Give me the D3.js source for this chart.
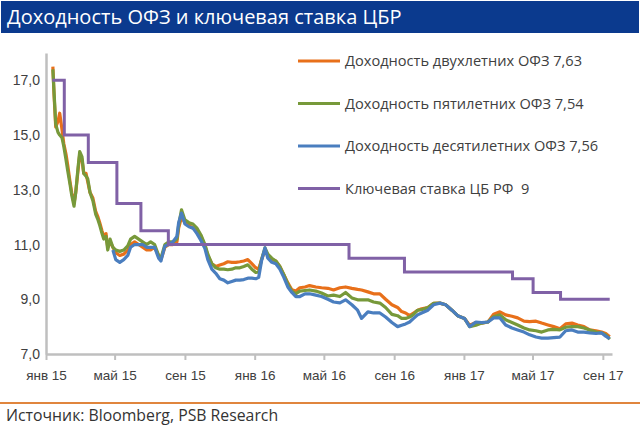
<!DOCTYPE html>
<html>
<head>
<meta charset="utf-8">
<script src="https://cdn.jsdelivr.net/npm/d3@7"></script>
<style>
  body { margin: 0; background: white; }
  svg { display: block; }
</style>
</head>
<body>
<div class="canvas"></div>
<script>
// dates of the readings (shared by the three bond series)
const dates = [
  "2015-01-13","2015-01-15","2015-01-18","2015-01-22","2015-01-25","2015-01-29","2015-02-01","2015-02-05",
  "2015-02-08","2015-02-12","2015-02-15","2015-02-19","2015-02-22","2015-02-26","2015-03-01","2015-03-05",
  "2015-03-08","2015-03-12","2015-03-15","2015-03-19","2015-03-24","2015-03-29","2015-04-02","2015-04-05",
  "2015-04-09","2015-04-12","2015-04-16","2015-04-19","2015-04-23","2015-04-28","2015-05-03","2015-05-10",
  "2015-05-17","2015-05-24","2015-05-29","2015-06-05","2015-06-12","2015-06-19","2015-06-26","2015-07-03",
  "2015-07-10","2015-07-17","2015-07-21","2015-07-28","2015-08-04","2015-08-11","2015-08-18","2015-08-21",
  "2015-08-26","2015-09-01","2015-09-08","2015-09-15","2015-09-22","2015-09-29","2015-10-06","2015-10-11",
  "2015-10-18","2015-10-25","2015-11-01","2015-11-08","2015-11-15","2015-11-22","2015-11-29","2015-12-06",
  "2015-12-13","2015-12-20","2015-12-27","2016-01-03","2016-01-08","2016-01-13","2016-01-19","2016-01-24",
  "2016-01-31","2016-02-07","2016-02-14","2016-02-21","2016-02-28","2016-03-06","2016-03-13","2016-03-20",
  "2016-03-29","2016-04-06","2016-04-17","2016-04-27","2016-05-08","2016-05-18","2016-05-29","2016-06-08",
  "2016-06-19","2016-06-29","2016-07-06","2016-07-17","2016-07-27","2016-08-07","2016-08-17","2016-08-28",
  "2016-09-07","2016-09-14","2016-09-21","2016-09-28","2016-10-05","2016-10-12","2016-10-19","2016-10-30",
  "2016-11-09","2016-11-20","2016-11-30","2016-12-11","2016-12-21","2017-01-02","2017-01-11","2017-01-22",
  "2017-02-01","2017-02-12","2017-02-22","2017-03-05","2017-03-15","2017-03-26","2017-04-05","2017-04-16",
  "2017-04-26","2017-05-07","2017-05-17","2017-05-28","2017-06-07","2017-06-18","2017-06-28","2017-07-09",
  "2017-07-19","2017-07-30","2017-08-09","2017-08-20","2017-08-30","2017-09-06","2017-09-13"
];

const ofz2 = [
  17.5,16.5,15.3,15.5,15.8,15.2,14.7,14.3, 13.9,13.3,12.9,12.5,12.9,13.7,14.3,14.1,
  13.6,13.6,13.3,12.9,12.7,12.2,12.0,11.8, 11.5,11.3,11.4,10.9,11.1,10.9,10.7,10.6,
  10.65,10.8,11.0,11.1,11.0,10.9,10.8,10.8, 10.9,10.6,10.45,10.9,11.0,11.0,11.1,11.6,
  12.0,11.8,11.7,11.6,11.5,11.3,10.95,10.6, 10.3,10.2,10.25,10.3,10.37,10.35,10.35,10.37,
  10.4,10.45,10.3,10.15,10.1,10.45,10.8,10.6, 10.45,10.4,10.2,9.9,9.6,9.35,9.3,9.42,
  9.45,9.5,9.45,9.42,9.4,9.34,9.42,9.45, 9.4,9.36,9.34,9.27,9.2,9.2,9.0,8.8,
  8.7,8.55,8.5,8.4,8.5,8.6,8.65,8.7, 8.85,8.86,8.8,8.6,8.4,8.3,8.05,8.15,
  8.13,8.17,8.45,8.54,8.43,8.38,8.32,8.2, 8.18,8.2,8.13,8.06,8.0,7.92,8.1,8.13,
  8.06,8.0,7.88,7.85,7.8,7.75,7.63
];

const ofz5 = [
  17.4,16.6,15.4,15.1,15.0,14.9,14.6,14.1, 13.7,13.2,12.8,12.4,12.9,13.8,14.4,14.2,
  13.6,13.5,13.4,12.9,12.6,12.1,11.9,11.7, 11.4,11.2,11.3,10.8,11.2,10.9,10.8,10.75,
  10.8,10.95,11.2,11.3,11.2,11.1,11.0,11.1, 11.0,10.6,10.5,11.0,11.1,11.1,11.2,11.7,
  12.27,11.9,11.8,11.75,11.6,11.35,11.0,10.65, 10.3,10.15,10.1,10.1,10.08,10.1,10.15,10.15,
  10.2,10.26,10.1,9.98,10.0,10.45,10.88,10.65, 10.5,10.4,10.2,9.9,9.55,9.3,9.2,9.3,
  9.32,9.34,9.3,9.23,9.12,9.15,9.1,9.25, 9.05,8.98,8.98,8.98,8.9,8.86,8.7,8.45,
  8.4,8.3,8.3,8.35,8.45,8.6,8.62,8.7, 8.85,8.86,8.8,8.6,8.4,8.3,8.0,8.05,
  8.13,8.17,8.36,8.43,8.25,8.15,8.06,7.95, 7.88,7.85,7.8,7.88,7.9,7.88,7.98,8.0,
  8.0,7.95,7.88,7.8,7.77,7.7,7.54
];

// ten-year series starts at the end of April 2015
const ofz10 = [
  null,null,null,null,null,null,null,null, null,null,null,null,null,null,null,null,
  null,null,null,null,null,null,null,null, null,null,null,null,null,10.8,10.45,10.35,
  10.45,10.6,10.9,11.0,11.0,11.0,10.9,10.9, 10.9,10.5,10.4,10.95,11.0,11.1,11.3,11.8,
  12.15,11.75,11.65,11.6,11.4,11.15,10.85,10.45, 10.1,9.95,9.75,9.7,9.6,9.65,9.7,9.7,
  9.72,9.77,9.77,9.75,9.8,10.4,10.88,10.5, 10.35,10.3,10.1,9.8,9.45,9.25,9.1,9.1,
  9.2,9.2,9.15,9.1,9.0,8.9,8.87,8.98, 8.8,8.6,8.3,8.54,8.5,8.5,8.35,8.15,
  8.0,8.05,8.1,8.17,8.3,8.43,8.5,8.6, 8.8,8.86,8.8,8.6,8.4,8.3,8.0,8.17,
  8.15,8.17,8.32,8.32,8.06,7.95,7.88,7.8, 7.7,7.62,7.58,7.58,7.6,7.62,7.85,7.88,
  7.8,7.8,7.77,7.75,7.77,7.65,7.56
];

// key rate of the Bank of Russia, changes
const keyDates = ["2015-01-12","2015-02-02","2015-03-16","2015-05-05","2015-06-16","2015-08-03",
                  "2016-06-14","2016-09-19","2017-03-27","2017-05-02","2017-06-19","2017-09-13"];
const keyRate = [17, 15, 14, 12.5, 11.5, 11, 10.5, 10, 9.75, 9.25, 9, 9];

const legendLabels = ["Доходность двухлетних ОФЗ 7,63", "Доходность пятилетних ОФЗ 7,54",
                      "Доходность десятилетних ОФЗ 7,56", "Ключевая ставка ЦБ РФ  9"];
const xTickDates = ["2015-01-01","2015-05-01","2015-09-01","2016-01-01","2016-05-01",
                    "2016-09-01","2017-01-01","2017-05-01","2017-09-01"];
const xTickLabels = ["янв 15","май 15","сен 15","янв 16","май 16","сен 16","янв 17","май 17","сен 17"];
const yTicks = [7, 9, 11, 13, 15, 17];

const colors = ["#E8701A", "#77993A", "#4A7EBF", "#8061A6"];

const parse = d3.timeParse("%Y-%m-%d");
const ru = d3.formatLocale({decimal: ",", thousands: " ", grouping: [3], currency: ["", ""]});
const fmt = ru.format(".1f");

const W = 640, H = 428;
const svg = d3.select('.canvas')
  .append('svg')
    .attr('width', W)
    .attr('height', H)
    .style("font-family", "'Open Sans', sans-serif");

// title bar
svg.append("rect")
  .attr("x", 1).attr("y", 1)
  .attr("width", W - 2).attr("height", 32)
  .attr("fill", "#0B3A8E");
svg.append("text")
  .attr("x", 7).attr("y", 24)
  .attr("fill", "white")
  .style("font-size", "20px")
  .text("Доходность ОФЗ и ключевая ставка ЦБР");

const x = d3.scaleTime()
  .domain([parse("2015-01-01"), parse("2017-09-17")])
  .range([46, 612]);
const y = d3.scaleLinear()
  .domain([7, 18])
  .range([354, 53]);

// axes
const xAxis = svg.append("g")
  .attr("transform", "translate(0,354)")
  .call(d3.axisBottom(x)
    .tickValues(xTickDates.map(parse))
    .tickFormat((d, i) => xTickLabels[i])
    .tickSize(6)
    .tickSizeOuter(0));
xAxis.select(".domain").attr("stroke", "#BFBFBF").attr("stroke-width", 2.5);
xAxis.selectAll(".tick line").attr("stroke", "#BFBFBF").attr("stroke-width", 2);
xAxis.selectAll("text")
  .attr("dy", "1.25em")
  .style("font-size", "13.5px")
  .attr("fill", "#404040");

const yAxis = svg.append("g")
  .attr("transform", "translate(46,0)")
  .call(d3.axisLeft(y)
    .tickValues(yTicks)
    .tickFormat(fmt)
    .tickSize(0)
    .tickPadding(6));
yAxis.select(".domain").attr("stroke", "#BFBFBF").attr("stroke-width", 2.5);
yAxis.selectAll("text")
  .style("font-size", "14px")
  .attr("fill", "#404040");

// bond yield lines
const series = [ofz2, ofz5, ofz10];
const line = d3.line()
  .defined(d => d[1] != null)
  .x(d => x(parse(d[0])))
  .y(d => y(d[1]));

series.forEach((vals, i) => {
  svg.append("path")
    .datum(dates.map((d, j) => [d, vals[j]]))
    .attr("fill", "none")
    .attr("stroke", colors[i])
    .attr("stroke-width", 3.2)
    .attr("stroke-linejoin", "round")
    .attr("d", line);
});

// key rate, stepped
svg.append("path")
  .datum(keyDates.map((d, j) => [d, keyRate[j]]))
  .attr("fill", "none")
  .attr("stroke", colors[3])
  .attr("stroke-width", 3)
  .attr("d", line.curve(d3.curveStepAfter));

// legend
const legend = svg.append("g");
legendLabels.forEach((lab, i) => {
  const ly = 61 + i * 42.5;
  legend.append("line")
    .attr("x1", 298).attr("x2", 340)
    .attr("y1", ly).attr("y2", ly)
    .attr("stroke", colors[i])
    .attr("stroke-width", 3);
  legend.append("text")
    .attr("x", 345).attr("y", ly + 5)
    .style("font-size", "14.6px")
    .style("white-space", "pre")
    .attr("fill", "#404040")
    .text(lab);
});

// footer
svg.append("line")
  .attr("x1", 0).attr("x2", W)
  .attr("y1", 403).attr("y2", 403)
  .attr("stroke", "#E0853D")
  .attr("stroke-width", 2);
svg.append("text")
  .attr("x", 6).attr("y", 421)
  .style("font-size", "15.8px")
  .attr("fill", "#333")
  .text("Источник: Bloomberg, PSB Research");
</script>
</body>
</html>
